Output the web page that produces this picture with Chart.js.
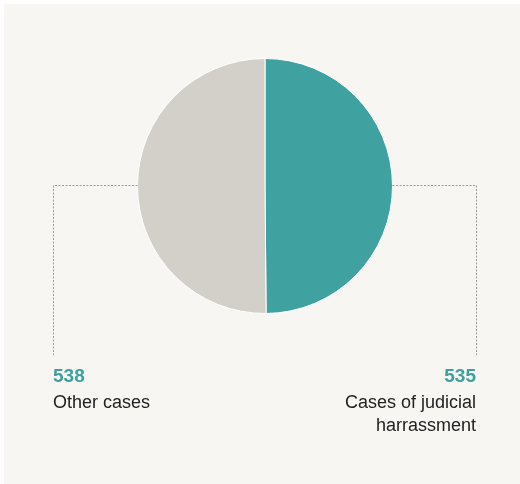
<!DOCTYPE html>
<html>
<head>
<meta charset="utf-8">
<script src="https://cdn.jsdelivr.net/npm/chart.js@4/dist/chart.umd.min.js"></script>
<style>
  html, body { margin: 0; padding: 0; background: #ffffff; }
  canvas { display: block; }
</style>
</head>
<body>
<canvas id="pie" width="520" height="484"></canvas>
<script>
// Case counts, clockwise from 12 o'clock
const categories = [['Cases of judicial', 'harrassment'], ['Other cases']];
const caseCounts = [535, 538];
const sliceColors = ['#3fa1a0', '#d3d0c9'];

const PANEL_BG = '#f7f6f3';
const VALUE_COLOR = '#3ea09f';
const TEXT_COLOR = '#222222';
const LEADER_COLOR = '#999999';

// Light panel behind the whole figure
const panelBackground = {
  id: 'panelBackground',
  beforeDraw(chart) {
    const ctx = chart.ctx;
    ctx.save();
    ctx.fillStyle = '#ffffff';
    ctx.fillRect(0, 0, chart.width, chart.height);
    ctx.fillStyle = PANEL_BG;
    ctx.fillRect(4, 4, chart.width - 4, chart.height - 4);
    ctx.restore();
  }
};

// Dotted leader from each slice's outer edge out to the side, then down to its label
const leaderLabels = {
  id: 'leaderLabels',
  afterDatasetsDraw(chart) {
    const ctx = chart.ctx;
    const meta = chart.getDatasetMeta(0);
    const values = chart.data.datasets[0].data;
    ctx.save();
    meta.data.forEach((arc, i) => {
      const p = arc.getProps(['x', 'y', 'startAngle', 'endAngle', 'outerRadius'], true);
      const mid = (p.startAngle + p.endAngle) / 2;
      const onRight = Math.cos(mid) >= 0;
      const ax = p.x + (onRight ? 1 : -1) * p.outerRadius;
      const lx = onRight ? 476.5 : 53.5;
      const bottom = 355;

      ctx.beginPath();
      ctx.strokeStyle = LEADER_COLOR;
      ctx.lineWidth = 1;
      ctx.setLineDash([2, 1.5]);
      const hy = Math.round(p.y) - 0.5;
      ctx.moveTo(ax, hy);
      ctx.lineTo(lx, hy);
      ctx.lineTo(lx, bottom);
      ctx.stroke();
      ctx.setLineDash([]);

      const tx = onRight ? 476 : 53;
      ctx.textAlign = onRight ? 'right' : 'left';
      ctx.textBaseline = 'alphabetic';
      ctx.fillStyle = VALUE_COLOR;
      ctx.font = 'bold 19px "Liberation Sans", Arial, sans-serif';
      ctx.fillText(String(values[i]), tx, 382);

      ctx.fillStyle = TEXT_COLOR;
      ctx.font = '18px "Liberation Sans", Arial, sans-serif';
      const lines = [].concat(chart.data.labels[i]);
      lines.forEach((line, k) => ctx.fillText(line, tx, 408 + k * 23));
    });
    ctx.restore();
  }
};

new Chart(document.getElementById('pie'), {
  type: 'pie',
  data: {
    labels: categories,
    datasets: [{
      data: caseCounts,
      backgroundColor: sliceColors,
      borderColor: '#ffffff',
      borderWidth: 1
    }]
  },
  options: {
    responsive: false,
    animation: false,
    devicePixelRatio: 1,
    layout: { padding: { left: 137, right: 127, top: 58, bottom: 170 } },
    plugins: {
      legend: { display: false },
      tooltip: { enabled: false }
    }
  },
  plugins: [panelBackground, leaderLabels]
});
</script>
</body>
</html>
